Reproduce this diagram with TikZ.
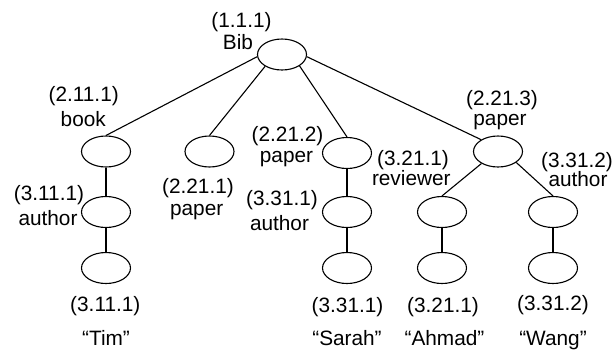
\documentclass[tikz,border=0pt]{standalone}
\usepackage{fontspec}
\setmainfont{Liberation Sans}
\usetikzlibrary{shapes.geometric}
\begin{document}
\begin{tikzpicture}[x=1bp,y=-1bp,
  elem/.style={draw,ellipse,minimum width=49bp,minimum height=31bp,inner sep=0pt,line width=1.1bp},
  lbl/.style={anchor=base,inner sep=0pt,font=\fontsize{20.8bp}{23bp}\selectfont},
  edge/.style={line width=1.1bp}]
\useasboundingbox (0,0) rectangle (614,349);

% tree nodes
\node[elem] (root) at (282,54.5) {};
\node[elem] (book) at (106,151.5) {};
\node[elem] (p1)   at (209.5,151.5) {};
\node[elem] (p2)   at (347,153) {};
\node[elem] (p3)   at (498,151.5) {};
\node[elem] (a1)   at (106,212) {};
\node[elem] (t1)   at (106,268) {};
\node[elem] (a2)   at (347,212) {};
\node[elem] (s2)   at (347,268) {};
\node[elem] (rv)   at (442,212) {};
\node[elem] (ah)   at (442,268) {};
\node[elem] (wa)   at (553,212) {};
\node[elem] (wg)   at (553,268) {};

% edges
\draw[edge] (root.185) -- (book.north);
\draw[edge] (root.215) -- (p1.north);
\draw[edge] (root.327) -- (p2.north);
\draw[edge] (root.355) -- (p3.145);
\draw[edge] (p3.216) -- (rv.north);
\draw[edge] (p3.329) -- (wa.north);
\draw[edge] (book) -- (a1);
\draw[edge] (a1) -- (t1);
\draw[edge] (p2) -- (a2);
\draw[edge] (a2) -- (s2);
\draw[edge] (rv) -- (ah);
\draw[edge] (wa) -- (wg);

% labels
\node[lbl] (lrootid) at (241.5,27) {(1.1.1)};
\node[lbl] (lroot)   at (238,49.3) {Bib};
\node[lbl] (lbookid) at (83.7,101.7) {(2.11.1)};
\node[lbl] (lbook)   at (83.3,126.7) {book};
\node[lbl] (la1id)   at (49,200) {(3.11.1)};
\node[lbl] (la1)     at (48,225) {author};
\node[lbl] (lp1id)   at (198,193) {(2.21.1)};
\node[lbl] (lp1)     at (196.7,215) {paper};
\node[lbl] (lp2id)   at (287.5,141.7) {(2.21.2)};
\node[lbl] (lp2)     at (286.5,162) {paper};
\node[lbl] (la2id)   at (282,205) {(3.31.1)};
\node[lbl] (la2)     at (279.5,230) {author};
\node[lbl] (lp3id)   at (502,105) {(2.21.3)};
\node[lbl] (lp3)     at (500,125) {paper};
\node[lbl] (lrvid)   at (413,165) {(3.21.1)};
\node[lbl] (lrv)     at (411.3,185) {reviewer};
\node[lbl] (lwaid)   at (577,167) {(3.31.2)};
\node[lbl] (lwa)     at (578,186.7) {author};

\node[lbl] (lt1id)   at (105.3,311.7) {(3.11.1)};
\node[lbl] (lt1)     at (106,345) {“Tim”};
\node[lbl] (ls2id)   at (347.5,312.5) {(3.31.1)};
\node[lbl] (ls2)     at (347,345) {“Sarah”};
\node[lbl] (lahid)   at (443,312.5) {(3.21.1)};
\node[lbl] (lah)     at (444.5,345) {“Ahmad”};
\node[lbl] (lwgid)   at (553,310.5) {(3.31.2)};
\node[lbl] (lwg)     at (553,345) {“Wang”};
\end{tikzpicture}
\end{document}
